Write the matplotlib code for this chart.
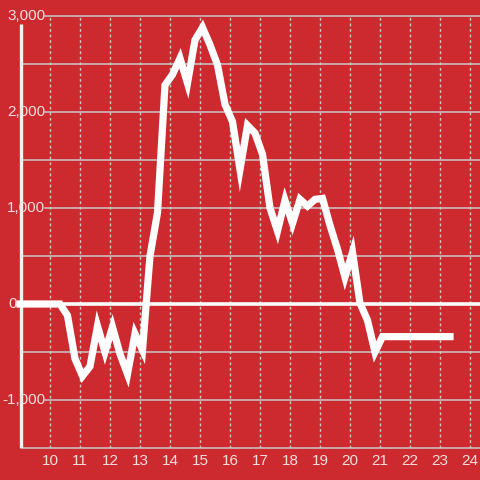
import matplotlib
matplotlib.use("Agg")
import matplotlib.pyplot as plt
import matplotlib.transforms as mtransforms

# ---- data ----
hours = [9.0, 10.333, 10.583, 10.833, 11.083, 11.333, 11.583, 11.833, 12.083, 12.333,
         12.583, 12.833, 13.083, 13.333, 13.583, 13.833, 14.083, 14.333, 14.583, 14.833,
         15.083, 15.333, 15.583, 15.833, 16.083, 16.333, 16.583, 16.833, 17.083, 17.333,
         17.583, 17.833, 18.083, 18.333, 18.583, 18.833, 19.083, 19.333, 19.583, 19.833,
         20.083, 20.333, 20.583, 20.833, 21.083, 23.333]
values = [0, 0, -120, -570, -750, -650, -230, -500, -240, -520,
          -730, -310, -480, 500, 950, 2280, 2390, 2560, 2300, 2750,
          2880, 2700, 2490, 2080, 1900, 1400, 1860, 1780, 1560, 1000,
          760, 1080, 840, 1090, 1020, 1090, 1100, 820, 570, 280,
          540, 10, -170, -500, -340, -340]
x_ticks = list(range(10, 25))
y_grid = [-1500, -1000, -500, 0, 500, 1000, 1500, 2000, 2500, 3000]
y_labels = {3000: "3,000", 2000: "2,000", 1000: "1,000", 0: "0", -1000: "-1,000"}

BG = "#cd2a2f"
TXT = "#f6dede"
GRID = "#c9c9c9"

fig = plt.figure(figsize=(4.8, 4.8), dpi=100)
fig.patch.set_facecolor(BG)
ax = fig.add_axes([0, 32 / 480, 1, 432 / 480])
ax.set_facecolor(BG)
ax.set_xlim(8.3333, 24.3333)
ax.set_ylim(-1500, 3000)
for s in ax.spines.values():
    s.set_visible(False)

# vertical dotted grid
for xt in x_ticks:
    ax.axvline(xt, color=GRID, lw=1, ls=(0, (2, 2)), zorder=1)
# horizontal grid
for yg in y_grid:
    if yg == 0:
        continue
    start = 45 / 480 if yg in y_labels else 21 / 480
    ax.axhline(yg, xmin=start, xmax=1, color=GRID, lw=1.1, zorder=1, clip_on=False)

# zero line
ax.axhline(0, xmin=17 / 480, xmax=1, color="white", lw=2.6, zorder=2)
# y axis line
ax.vlines(9.033, -1500, 2917, color="#f2f2f2", lw=2.4, zorder=2)

# data line
ax.plot(hours, values, color="white", lw=5.2, solid_joinstyle="miter", zorder=3)

ax.set_xticks([])
ax.set_yticks([])

font = "Liberation Sans"
trans_y = mtransforms.blended_transform_factory(fig.transFigure, ax.transData)
for v, lab in y_labels.items():
    xpos = 2 / 480 if lab.startswith("-") else 7 / 480
    if lab == "0":
        xpos = 8 / 480
    ax.text(xpos, v, lab, transform=trans_y, ha="left", va="center",
            color=TXT, fontsize=11, family=font, zorder=4)

trans_x = mtransforms.blended_transform_factory(ax.transData, fig.transFigure)
for xt in x_ticks:
    ax.text(xt, (480 - 461) / 480, str(xt), transform=trans_x, ha="center",
            va="center", color=TXT, fontsize=11, family=font)

fig.savefig("out.png", dpi=100, facecolor=BG)
